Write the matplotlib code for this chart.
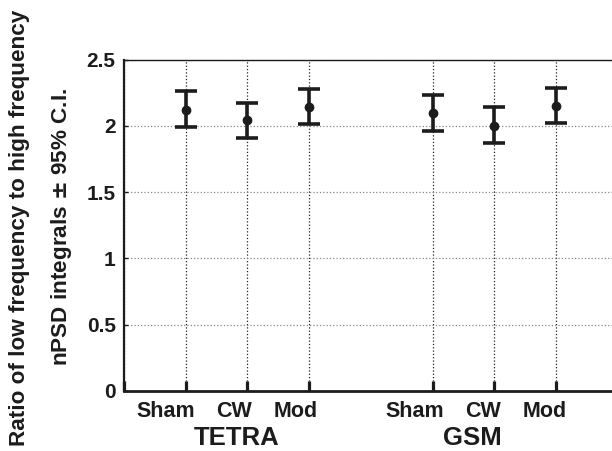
import matplotlib
matplotlib.use("Agg")
import matplotlib.pyplot as plt
from matplotlib.transforms import ScaledTranslation

plt.rcParams['font.family'] = ['Liberation Sans', 'DejaVu Sans']
plt.rcParams['font.weight'] = 'bold'

# data
positions = [1, 2, 3, 5, 6, 7]
conditions = ['Sham', 'CW', 'Mod', 'Sham', 'CW', 'Mod']
means = [2.12, 2.04, 2.145, 2.095, 2.00, 2.15]
upper = [2.26, 2.175, 2.28, 2.235, 2.14, 2.285]
lower = [1.99, 1.905, 2.01, 1.96, 1.87, 2.02]
groups = ['TETRA', 'GSM']
group_x = [1.82, 5.64]
tick_pos = [0, 1, 2, 3, 5, 6, 7]
yticks = [0, 0.5, 1, 1.5, 2, 2.5]
ytick_labels = ['0', '0.5', '1', '1.5', '2', '2.5']

ink = '#1c1c1c'

fig = plt.figure(figsize=(6.12, 4.51), dpi=100)
ax = fig.add_axes([124 / 612, 60 / 451, 493.6 / 612, 331.5 / 451])

yerr = [[m - l for m, l in zip(means, lower)],
        [u - m for u, m in zip(upper, means)]]
ax.errorbar(positions, means, yerr=yerr, fmt='o', color=ink, ms=6,
            elinewidth=2.6, capsize=8, capthick=2.6, zorder=5)

ax.set_xlim(0, 8)
ax.set_ylim(0, 2.5)
ax.set_yticks(yticks)
ax.set_yticklabels(ytick_labels, fontsize=15, fontweight='bold', color=ink)
ax.set_xticks(tick_pos)
ax.set_xticklabels([''] * len(tick_pos))

ax.tick_params(axis='x', direction='in', length=7.5, width=2.3, color=ink)
ax.tick_params(axis='y', direction='in', length=3, width=1, color=ink, pad=6)

ax.xaxis.grid(True, linestyle=':', color='#222222', linewidth=0.9)
ax.yaxis.grid(True, linestyle=':', color='#888888', linewidth=0.9)
ax.set_axisbelow(True)

ax.spines['bottom'].set_linewidth(2.0)
ax.spines['left'].set_linewidth(1.6)
ax.spines['top'].set_linewidth(1.0)
for s in ['bottom', 'left', 'top']:
    ax.spines[s].set_color(ink)
ax.spines['right'].set_visible(False)

# condition labels sit a little left of their ticks in the original
offsets = [-20, -13, -13, -18, -11, -11]
for x, lab, dx in zip(positions, conditions, offsets):
    tr = ax.get_xaxis_transform() + ScaledTranslation(dx / 100, 0, fig.dpi_scale_trans)
    ax.text(x, -0.078, lab, transform=tr, ha='center', va='baseline',
            fontsize=15.5, fontweight='bold', color=ink)

for x, g in zip(group_x, groups):
    ax.text(x, -0.163, g, transform=ax.get_xaxis_transform(), ha='center',
            va='baseline', fontsize=18.5, fontweight='bold', color=ink)

fig.text(20 / 612, 1 - 228 / 451, 'Ratio of low frequency to high frequency',
         rotation=90, ha='center', va='center', fontsize=16.2,
         fontweight='bold', color=ink)
fig.text(62 / 612, 1 - 227 / 451, 'nPSD integrals $\\pm$ 95% C.I.',
         rotation=90, ha='center', va='center', fontsize=16.2,
         fontweight='bold', color=ink)

fig.savefig('out.png', dpi=100)
